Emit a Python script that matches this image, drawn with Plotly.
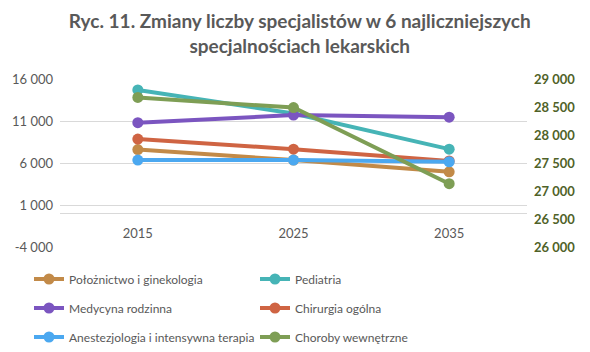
import plotly.graph_objects as go

years = ["2015", "2025", "2035"]
poloznictwo = [7600, 6350, 4950]
pediatria = [14700, 11900, 7650]
medycyna = [10800, 11700, 11450]
chirurgia = [8850, 7650, 6250]
anestezjologia = [6350, 6350, 6150]
choroby = [28670, 28490, 27130]  # secondary (right) axis

left_ticks = [-4000, 1000, 6000, 11000, 16000]
left_labels = ["-4 000", "1 000", "6 000", "11 000", "16 000"]
right_ticks = [26000, 26500, 27000, 27500, 28000, 28500, 29000]
right_labels = ["26 000", "26 500", "27 000", "27 500", "28 000", "28 500", "29 000"]

series = [
    ("Położnictwo i ginekologia", poloznictwo, "#C28A48", "y"),
    ("Pediatria", pediatria, "#46B4B6", "y"),
    ("Medycyna rodzinna", medycyna, "#7B55C0", "y"),
    ("Chirurgia ogólna", chirurgia, "#CF6443", "y"),
    ("Anestezjologia i intensywna terapia", anestezjologia, "#4BA8F0", "y"),
    ("Choroby wewnętrzne", choroby, "#7E9E55", "y2"),
]

FONT = "Lato"
GRAY = "#595959"

# legend slot placement (column x, row y) in container fractions
col_x = [29 / 590, 255 / 590]
row_y = [1 - 279 / 352, 1 - 308 / 352, 1 - 337 / 352]

fig = go.Figure()
legends = {}
for i, (name, vals, color, yax) in enumerate(series):
    key = "legend" if i == 0 else f"legend{i + 1}"
    fig.add_trace(go.Scatter(
        x=years, y=vals, name=name, yaxis=yax, legend=key,
        mode="lines+markers",
        line=dict(color=color, width=4),
        marker=dict(color=color, size=11),
    ))
    legends[key] = dict(
        xref="container", yref="container",
        x=col_x[i % 2], y=row_y[i // 2],
        xanchor="left", yanchor="middle",
        font=dict(family=FONT, size=12, color=GRAY),
        bgcolor="rgba(0,0,0,0)", borderwidth=0,
    )

fig.update_layout(
    width=590, height=352,
    margin=dict(l=60, r=63, t=79, b=105, autoexpand=False),
    paper_bgcolor="white", plot_bgcolor="white",
    font=dict(family=FONT, color=GRAY),
    title=dict(
        text="Ryc. 11. Zmiany liczby specjalistów w 6 najliczniejszych<br>specjalnościach lekarskich",
        x=0.508, xanchor="center", y=0.92, yanchor="top",
        font=dict(family=FONT, size=19, color=GRAY, weight="bold"),
    ),
    xaxis=dict(
        type="category", range=[-0.5, 2.5],
        anchor="free", position=0.2,
        showline=True, linecolor="#D9D9D9", linewidth=1,
        showgrid=False, ticks="", ticklabelstandoff=8,
        tickfont=dict(family=FONT, size=13, color=GRAY),
    ),
    yaxis=dict(
        range=[-4000, 16000], tickvals=left_ticks, ticktext=left_labels,
        showgrid=True, gridcolor="#D9D9D9", gridwidth=1,
        zeroline=False, showline=False, ticks="",
        ticklabelstandoff=6,
        tickfont=dict(family=FONT, size=13, color=GRAY),
    ),
    yaxis2=dict(
        overlaying="y", side="right",
        range=[26000, 29000], tickvals=right_ticks, ticktext=right_labels,
        showgrid=False, zeroline=False, showline=False, ticks="",
        ticklabelstandoff=6,
        tickfont=dict(family=FONT, size=13, color="#4F6228", weight="bold"),
    ),
    showlegend=True,
    **legends,
)

fig.write_html("out.html")
